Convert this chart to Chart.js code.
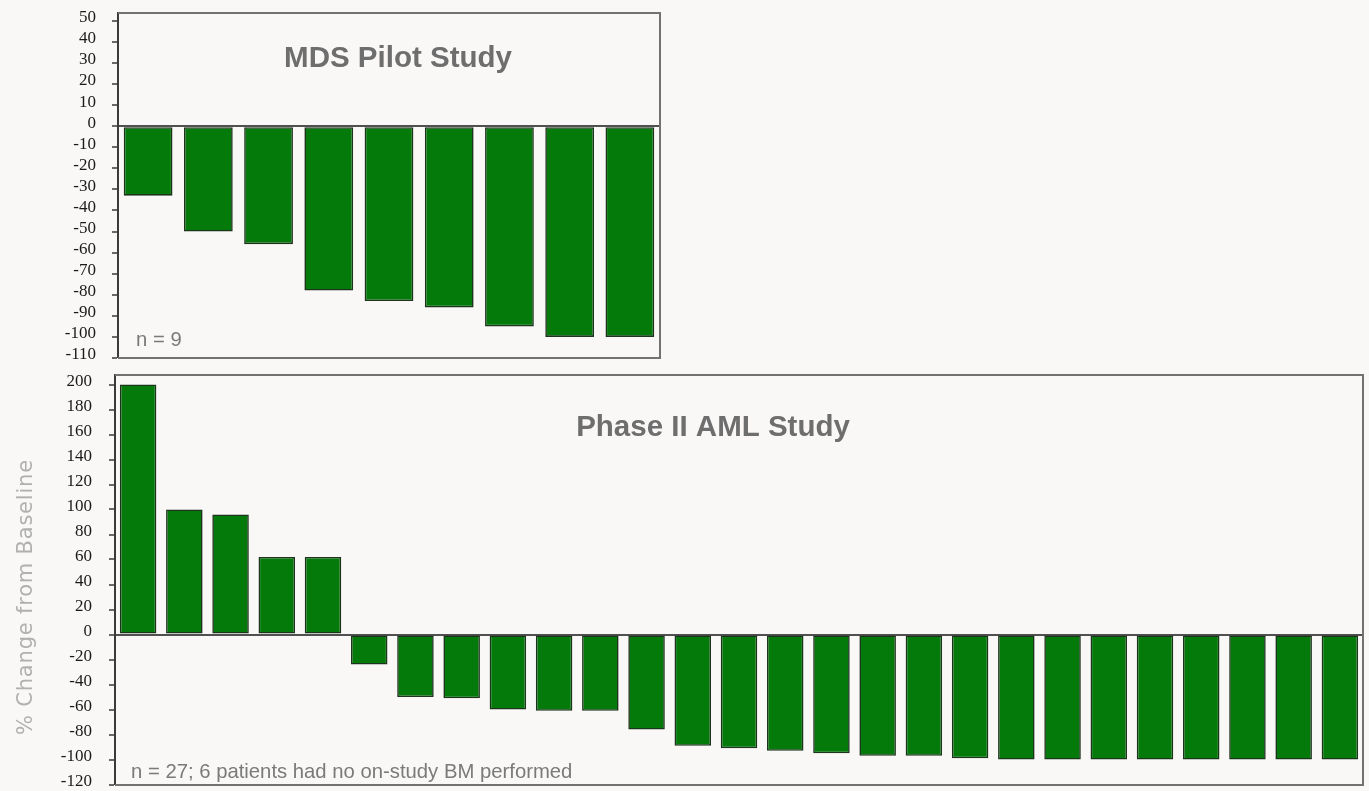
<!DOCTYPE html>
<html>
<head>
<meta charset="utf-8">
<title>% Change from Baseline</title>
<script src="https://cdn.jsdelivr.net/npm/chart.js@4/dist/chart.umd.min.js"></script>
<style>
  html, body { margin: 0; padding: 0; background: #f9f8f6; overflow: hidden; }
  body { width: 1369px; height: 791px; position: relative; }
  .box { position: absolute; }
  #mdsBox { left: 0; top: 0; width: 680px; height: 390px; }
  #amlBox { left: 0; top: 340px; width: 1369px; height: 480px; }
</style>
</head>
<body>
<div class="box" id="mdsBox"><canvas id="mds"></canvas></div>
<div class="box" id="amlBox"><canvas id="aml"></canvas></div>
<script>
// MDS pilot study: percent change from baseline, one bar per patient
const mdsPatients = ['1', '2', '3', '4', '5', '6', '7', '8', '9'];
const mdsChange = [-33, -50, -56, -78, -83, -86, -95, -100, -100];
const mdsTicks = [-110, -100, -90, -80, -70, -60, -50, -40, -30, -20, -10, 0, 10, 20, 30, 40, 50];

// Phase II AML study: percent change from baseline, one bar per patient
const amlPatients = ['1', '2', '3', '4', '5', '6', '7', '8', '9', '10', '11', '12', '13', '14',
  '15', '16', '17', '18', '19', '20', '21', '22', '23', '24', '25', '26', '27'];
const amlChange = [200, 100, 96, 62, 62, -24, -50, -51, -60, -61, -61, -76, -89, -91,
  -93, -95, -97, -97, -99, -100, -100, -100, -100, -100, -100, -100, -100];
const amlTicks = [-120, -100, -80, -60, -40, -20, 0, 20, 40, 60, 80, 100, 120, 140, 160, 180, 200];

const BAR_FILL = '#047a0b';
const BAR_EDGE = '#1c331c';

// Frame around the plot (top, right, bottom) plus free text labels
const framePlugin = {
  id: 'frameAndText',
  afterDatasetsDraw(chart, args, opts) {
    const { ctx, chartArea: a } = chart;
    ctx.save();
    ctx.strokeStyle = '#727272';
    ctx.lineWidth = 2;
    ctx.beginPath();
    ctx.moveTo(a.left, a.top);
    ctx.lineTo(a.right, a.top);
    ctx.lineTo(a.right, a.bottom);
    ctx.lineTo(a.left, a.bottom);
    ctx.stroke();

    (opts.texts || []).forEach(t => {
      ctx.save();
      ctx.font = t.font;
      ctx.fillStyle = t.color;
      ctx.textAlign = t.align || 'left';
      ctx.textBaseline = 'alphabetic';
      if (t.spacing) ctx.letterSpacing = t.spacing;
      ctx.translate(t.x, t.y);
      if (t.rotate) ctx.rotate(t.rotate);
      ctx.fillText(t.text, 0, 0);
      ctx.restore();
    });
    ctx.restore();
  }
};

function makeChart(id, labels, values, ticks, range, yWidth, pad, barPct, labelPad, texts) {
  return new Chart(document.getElementById(id), {
    type: 'bar',
    data: {
      labels: labels,
      datasets: [{
        data: values,
        backgroundColor: BAR_FILL,
        borderColor: BAR_EDGE,
        borderWidth: 1.6,
        borderSkipped: false,
        barPercentage: barPct,
        categoryPercentage: 1
      }]
    },
    options: {
      responsive: true,
      maintainAspectRatio: false,
      animation: false,
      layout: { padding: pad },
      plugins: {
        legend: { display: false },
        tooltip: { enabled: false },
        frameAndText: { texts: texts }
      },
      scales: {
        x: { display: false },
        y: {
          min: range[0],
          max: range[1],
          afterBuildTicks(scale) { scale.ticks = ticks.map(v => ({ value: v })); },
          afterFit(scale) { scale.width = yWidth; scale.paddingTop = 0; scale.paddingBottom = 0; },
          border: { display: true, color: '#3a3a3a', width: 2 },
          grid: {
            drawOnChartArea: true,
            drawTicks: true,
            tickLength: 6,
            tickColor: '#3a3a3a',
            tickWidth: 1.5,
            color: c => (c.tick && c.tick.value === 0) ? '#505050' : 'rgba(0,0,0,0)',
            lineWidth: c => (c.tick && c.tick.value === 0) ? 2 : 0
          },
          ticks: {
            autoSkip: false,
            padding: labelPad,
            labelOffset: -3,
            color: '#1a1a1a',
            font: { family: '"Liberation Serif", "Times New Roman", serif', size: 17 }
          }
        }
      }
    },
    plugins: [framePlugin]
  });
}

const titleFont = 'bold 29.5px "Liberation Sans", Arial, sans-serif';
const noteFont = '20.3px "Liberation Sans", Arial, sans-serif';

makeChart('mds', mdsPatients, mdsChange, mdsTicks, [-110, 53.7], 118,
  { left: 0, right: 20, top: 13, bottom: 32 }, 0.81, 16,
  [
    { text: 'MDS Pilot Study', x: 398, y: 67, font: titleFont, color: '#6e6e6e', align: 'center' },
    { text: 'n = 9', x: 136, y: 346, font: noteFont, color: '#7a7a7a' }
  ]);

makeChart('aml', amlPatients, amlChange, amlTicks, [-120.4, 207.6], 115,
  { left: 0, right: 6, top: 35, bottom: 35 }, 0.79, 17,
  [
    { text: 'Phase II AML Study', x: 713, y: 96, font: titleFont, color: '#6e6e6e', align: 'center' },
    { text: 'n = 27; 6 patients had no on-study BM performed', x: 131, y: 438, font: noteFont, color: '#7a7a7a' },
    { text: '% Change from Baseline', x: 32, y: 257, font: '21px "DejaVu Sans", sans-serif',
      color: '#b0b0b0', align: 'center', rotate: -Math.PI / 2, spacing: '0.8px' }
  ]);
</script>
</body>
</html>
